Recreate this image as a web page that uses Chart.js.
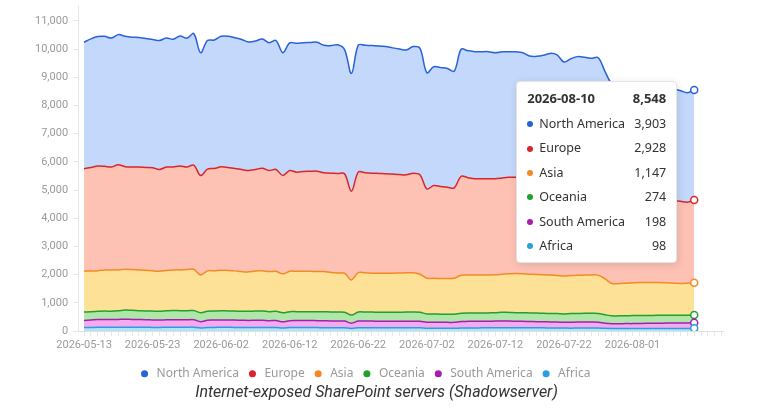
<!DOCTYPE html>
<html>
<head>
<meta charset="utf-8">
<script src="https://cdn.jsdelivr.net/npm/chart.js@4.4.1/dist/chart.umd.min.js"></script>
<style>
  html, body { margin: 0; padding: 0; background: #fff; }
  #wrap { position: relative; width: 765px; height: 414px; }
  #tip {
    position: absolute; display: none; box-sizing: border-box;
    width: 161px; height: 182px; padding: 6px 10px 0 10px;
    background: #fff; border: 1px solid #e4e4e4; border-radius: 4px;
    box-shadow: 1px 2px 8px rgba(0,0,0,0.12);
    font-family: "Noto Sans", sans-serif; color: #333; pointer-events: none;
  }
  #tip .head { display: flex; justify-content: space-between; font-weight: bold; font-size: 13px; line-height: 20px; margin-bottom: 4px; }
  #tip .row { display: flex; align-items: center; font-size: 12.5px; line-height: 24.4px; height: 24.4px; }
  #tip .dot { width: 6px; height: 6px; border-radius: 50%; margin-right: 6px; flex: none; }
  #tip .val { margin-left: auto; }
</style>
</head>
<body>
<div id="wrap">
  <canvas id="area-chart"></canvas>
  <div id="tip"></div>
</div>
<script>
const startDate = '2026-05-13';
const tickEvery = 10;
const yStep = 1000;
const yTop = 11000;

const northAmerica = [4485,4560,4590,4610,4575,4615,4620,4605,4595,4570, 4550,4570,4575,4525,4610,4565,4660,4355,4560,4555,
    4625,4650,4640,4610,4555,4550,4580,4530,4570,4355, 4525,4565,4560,4565,4570,4520,4520,4560,4405,4175,
    4505,4515,4520,4520,4505,4475,4450,4425,4485,4485, 4120,4210,4210,4210,4140,4500,4500,4505,4505,4505,
    4470,4475,4450,4445,4420,4350,4350,4375,4415,4390, 4260,4315,4350,4340,4320,4330,4180,4060,4000,3980,
    3980,3980,3960,3980,3970,3970,3960,3920,3880,3903];
const europe = [3630,3670,3710,3670,3650,3730,3635,3635,3645,3640, 3655,3605,3665,3650,3680,3635,3690,3525,3605,3625,
    3665,3650,3625,3620,3595,3600,3640,3585,3610,3485, 3575,3515,3540,3545,3555,3500,3520,3530,3525,3145,
    3560,3550,3545,3540,3530,3510,3490,3475,3530,3525, 3165,3290,3265,3235,3200,3510,3455,3410,3410,3410,
    3405,3415,3420,3415,3420,3385,3380,3400,3445,3425, 3325,3370,3400,3385,3360,3375,3170,3010,2995,2980,
    2960,2940,2935,2930,2920,2920,2920,2910,2870,2928];
const asia = [1450,1440,1440,1460,1460,1445,1450,1445,1445,1445, 1425,1420,1430,1440,1445,1460,1465,1340,1435,1430,
    1440,1435,1425,1405,1395,1420,1425,1420,1420,1380, 1430,1430,1430,1430,1425,1425,1400,1380,1380,1245,
    1400,1390,1380,1380,1380,1385,1390,1390,1395,1350, 1265,1265,1265,1270,1275,1350,1345,1350,1350,1345,
    1345,1345,1370,1390,1380,1370,1370,1370,1360,1355, 1345,1350,1355,1355,1360,1360,1270,1150,1145,1155,
    1160,1165,1170,1165,1160,1150,1135,1125,1135,1147];
const oceania = [295,295,290,295,295,305,325,320,315,310, 315,315,320,325,320,320,325,315,315,320,
    325,320,320,320,325,325,325,320,325,320, 320,315,315,315,320,320,320,320,315,290,
    320,320,320,320,320,320,320,325,325,320, 295,295,290,285,290,290,295,295,290,295,
    295,315,305,300,305,305,305,300,300,300, 300,305,305,310,310,310,300,280,280,280,
    285,285,280,280,280,275,280,275,275,274];
const southAmerica = [255,265,275,280,275,280,280,275,275,270, 265,260,265,270,270,265,265,225,255,260,
    260,260,260,255,250,255,255,245,250,220, 245,250,250,250,245,245,240,240,235,185,
    235,235,235,230,230,230,230,230,230,230, 215,210,210,210,210,230,235,235,235,235,
    240,240,240,235,230,225,220,215,215,210, 200,210,210,210,210,205,180,165,165,170,
    170,175,180,180,185,190,190,195,195,198];
const africa = [125,130,135,135,135,135,140,140,135,135, 130,130,135,135,135,135,140,110,130,130,
    135,135,130,130,130,130,130,125,125,110, 125,125,125,125,125,120,120,120,120,95,
    120,120,120,120,120,120,120,120,120,115, 100,100,100,100,100,110,110,110,115,115,
    115,115,115,115,115,115,115,115,110,110, 110,105,110,110,110,110,100,95,95,95,
    95,95,95,95,95,95,95,95,95,98];

// day labels, one per data point
const dates = [];
for (let i = 0; i < northAmerica.length; i++) {
    const d = new Date(startDate + 'T00:00:00Z');
    d.setUTCDate(d.getUTCDate() + i);
    dates.push(d.toISOString().slice(0, 10));
}
const lastIndex = dates.length - 1;

// stacked bottom-up
const regions = [
    { label: 'Africa', data: africa, line: '#2a9fe0', fill: '#b3e3f9' },
    { label: 'South America', data: southAmerica, line: '#a41fb0', fill: '#f5aaf0' },
    { label: 'Oceania', data: oceania, line: '#21a02c', fill: '#afe7a8' },
    { label: 'Asia', data: asia, line: '#f28a26', fill: '#fde196' },
    { label: 'Europe', data: europe, line: '#d8262a', fill: '#fdc2b4' },
    { label: 'North America', data: northAmerica, line: '#2862d8', fill: '#c4d8fb' },
];

Chart.defaults.font.family = 'Roboto';

function showTooltip(context) {
    const tip = document.getElementById('tip');
    const tooltip = context.tooltip;
    if (!tooltip || tooltip.opacity === 0 || !tooltip.dataPoints) {
        tip.style.display = 'none';
        return;
    }
    const points = tooltip.dataPoints;
    const total = points.reduce((sum, p) => sum + p.raw.y, 0);
    let html = '<div class="head"><span>' + dates[points[0].dataIndex] + '</span><span>' +
        total.toLocaleString('en-US') + '</span></div>';
    points.forEach(p => {
        html += '<div class="row"><span class="dot" style="background:' + p.dataset.borderColor + '"></span>' +
            '<span>' + p.dataset.label + '</span><span class="val">' + p.raw.y.toLocaleString('en-US') + '</span></div>';
    });
    tip.innerHTML = html;
    tip.style.display = 'block';
    tip.style.left = (tooltip.caretX - 178) + 'px';
    tip.style.top = (context.chart.chartArea.top + 76) + 'px';
}

// nudge the legend a bit left of the canvas centre, as in the original
const legendShift = {
    id: 'legendShift',
    afterLayout(chart) {
        chart.legend.left -= 12;
        chart.legend.right -= 12;
    },
};

const ctx = document.getElementById('area-chart').getContext('2d');

const areaChart = new Chart(ctx, {
    type: 'line',
    plugins: [legendShift],
    data: {
        datasets: regions.map((r, i) => ({
            label: r.label,
            data: r.data.map((v, x) => ({ x: x, y: v })),
            borderColor: r.line,
            backgroundColor: r.fill,
            borderWidth: 1.5,
            fill: i === 0 ? 'origin' : '-1',
            tension: 0.35,
            pointRadius: c => c.dataIndex === lastIndex ? 3.5 : 0,
            pointHoverRadius: c => c.dataIndex === lastIndex ? 3.5 : 0,
            pointBackgroundColor: '#fff',
            pointBorderColor: r.line,
            pointBorderWidth: 1.5,
        })),
    },
    options: {
        responsive: true,
        maintainAspectRatio: false,
        animation: false,
        events: [],
        layout: { padding: { left: 30, right: 42, top: 5, bottom: 3.4 } },
        scales: {
            x: {
                type: 'linear',
                min: -0.87,
                max: 93.2,
                afterBuildTicks: scale => {
                    const ticks = [];
                    for (let v = 0; v <= 93; v++) ticks.push({ value: v });
                    scale.ticks = ticks;
                },
                afterFit: scale => { scale.height += 5; },
                grid: { drawOnChartArea: false, drawTicks: true, tickLength: 5, color: '#e8e8e8' },
                border: { display: true, color: '#e0e0e0' },
                ticks: {
                    autoSkip: false,
                    maxRotation: 0,
                    padding: 3,
                    color: '#9a9a9a',
                    font: { size: 11 },
                    callback: v => (v % tickEvery === 0 && v <= lastIndex) ? dates[v] : '',
                },
            },
            y: {
                stacked: true,
                min: 0,
                max: 11560,
                afterBuildTicks: scale => {
                    const ticks = [];
                    for (let v = 0; v <= yTop; v += yStep) ticks.push({ value: v });
                    scale.ticks = ticks;
                },
                grid: { drawOnChartArea: false, drawTicks: true, tickLength: 5, color: '#e8e8e8' },
                border: { display: true, color: '#e8e8e8' },
                ticks: {
                    padding: 5,
                    color: '#9a9a9a',
                    font: { size: 11, lineHeight: 0 },
                    callback: v => v.toLocaleString('en-US'),
                },
            },
        },
        plugins: {
            legend: {
                position: 'bottom',
                reverse: true,
                labels: {
                    usePointStyle: true,
                    pointStyle: 'circle',
                    boxWidth: 12,
                    boxHeight: 5,
                    padding: 7.5,
                    color: '#999',
                    font: { family: 'Noto Sans', size: 12 },
                    generateLabels: chart => {
                        const items = Chart.defaults.plugins.legend.labels.generateLabels(chart);
                        items.forEach(item => {
                            const ds = chart.data.datasets[item.datasetIndex];
                            item.fillStyle = ds.borderColor;
                            item.strokeStyle = ds.borderColor;
                            item.lineWidth = 0;
                        });
                        return items;
                    },
                },
            },
            title: {
                display: true,
                position: 'bottom',
                text: 'Internet-exposed SharePoint servers (Shadowserver)',
                color: '#333',
                font: { family: 'Roboto', size: 16, style: 'italic', weight: 'normal' },
                padding: { top: -6.4, bottom: 8 },
            },
            tooltip: {
                enabled: false,
                external: showTooltip,
            },
        },
    },
});

// show the tooltip for the last day, North America first
const active = regions.map((r, i) => ({ datasetIndex: regions.length - 1 - i, index: lastIndex }));
const meta = areaChart.getDatasetMeta(regions.length - 1);
areaChart.tooltip.setActiveElements(active, { x: meta.data[lastIndex].x, y: meta.data[lastIndex].y });
areaChart.update();
</script>
</body>
</html>
